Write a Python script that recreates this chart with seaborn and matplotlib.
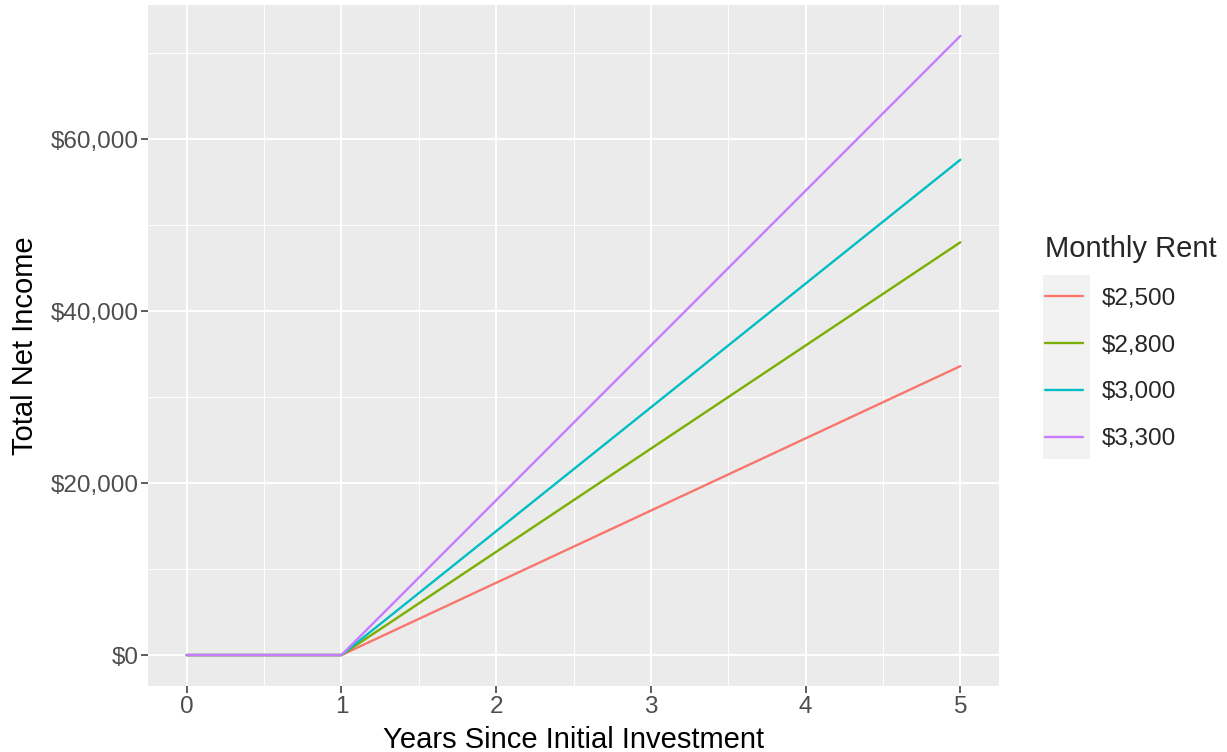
import matplotlib
matplotlib.use("Agg")
import pandas as pd
import matplotlib.pyplot as plt
import seaborn as sns
from matplotlib.ticker import FuncFormatter, MultipleLocator
from matplotlib.patches import Rectangle

# Datos
anios = [0, 1, 2, 3, 4, 5]
rentas = ["$2,500", "$2,800", "$3,000", "$3,300"]
ingreso_2500 = [0, 0, 8400, 16800, 25200, 33600]
ingreso_2800 = [0, 0, 12000, 24000, 36000, 48000]
ingreso_3000 = [0, 0, 14400, 28800, 43200, 57600]
ingreso_3300 = [0, 0, 18000, 36000, 54000, 72000]
colores = ["#F8766D", "#7CAE00", "#00BFC4", "#C77CFF"]

# Armar tabla larga
series = [ingreso_2500, ingreso_2800, ingreso_3000, ingreso_3300]
filas = []
for renta, valores in zip(rentas, series):
    for a, v in zip(anios, valores):
        filas.append({"Years": a, "Income": v, "Monthly Rent": renta})
df = pd.DataFrame(filas)

sns.set_style("white")
plt.rcParams['font.family'] = ['Liberation Sans', 'DejaVu Sans']

fig = plt.figure(figsize=(12.27, 7.52), dpi=100)
ax = fig.add_axes([148 / 1227, 1 - 686 / 752, (999 - 148) / 1227, (686 - 5) / 752])
ax.set_facecolor("#EBEBEB")

sns.lineplot(data=df, x="Years", y="Income", hue="Monthly Rent",
             hue_order=rentas, palette=colores, linewidth=1.7, ax=ax, zorder=3)

ax.set_xlim(-0.25, 5.25)
ax.set_ylim(-3600, 75600)
ax.xaxis.set_major_locator(MultipleLocator(1))
ax.xaxis.set_minor_locator(MultipleLocator(0.5))
ax.yaxis.set_major_locator(MultipleLocator(20000))
ax.yaxis.set_minor_locator(MultipleLocator(10000))
ax.yaxis.set_major_formatter(FuncFormatter(lambda v, p: "${:,.0f}".format(v)))
ax.grid(which="major", color="white", linewidth=1.4, zorder=0)
ax.grid(which="minor", color="white", linewidth=0.7, zorder=0)
ax.set_axisbelow(True)
for s in ax.spines.values():
    s.set_visible(False)
ax.tick_params(axis="both", which="major", bottom=True, left=True, length=5,
               width=1.1, color="#333333", labelcolor="#4D4D4D",
               labelsize=17.5, pad=2)
ax.tick_params(axis="both", which="minor", length=0)

ax.set_xlabel("Years Since Initial Investment", fontsize=21, color="black", labelpad=6)
ax.set_ylabel("Total Net Income", fontsize=21, color="black", labelpad=8)

# Leyenda al estilo ggplot
handles, labels = ax.get_legend_handles_labels()
ax.legend_.remove()
fig.patches.append(Rectangle((1043 / 1227, 1 - 459 / 752), 47 / 1227, 184 / 752,
                             transform=fig.transFigure, facecolor="#F2F2F2",
                             edgecolor="none", zorder=0))
leg = fig.legend(handles, labels, title="Monthly Rent", loc="upper left",
                 bbox_to_anchor=(1045 / 1227, 1 - 235 / 752), frameon=False,
                 fontsize=17.5, title_fontsize=21, handlelength=1.55,
                 labelspacing=1.02, handletextpad=0.8, alignment="left",
                 borderpad=0, borderaxespad=0)
for l in leg.get_lines():
    l.set_linewidth(1.7)

fig.savefig("out.png", dpi=100)
